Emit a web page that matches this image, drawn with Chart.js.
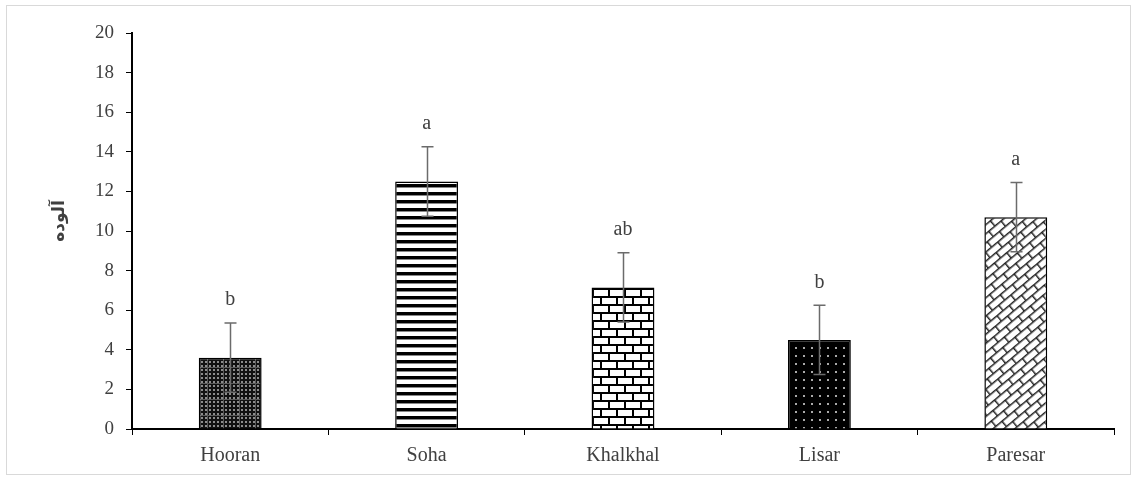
<!DOCTYPE html>
<html>
<head>
<meta charset="utf-8">
<script src="https://cdn.jsdelivr.net/npm/chart.js@4.4.1/dist/chart.umd.min.js"></script>
<style>
  html, body { margin: 0; padding: 0; background: #fff; }
  canvas { display: block; }
</style>
</head>
<body>
<canvas id="c" width="1138" height="480"></canvas>
<script>
// ---- Data ----
const categories = ["Hooran", "Soha", "Khalkhal", "Lisar", "Paresar"];
const values = [3.6, 12.5, 7.15, 4.5, 10.7];
const errors = [1.75, 1.75, 1.75, 1.75, 1.75];
const letters = ["b", "a", "ab", "b", "a"];
const yTicks = [0, 2, 4, 6, 8, 10, 12, 14, 16, 18, 20];
const yTitle = "آلوده";

// ---- Patterns ----
function mk(w, h, draw, rot) {
  const c = document.createElement('canvas');
  c.width = w; c.height = h;
  const g = c.getContext('2d');
  draw(g, w, h);
  const p = document.getElementById('c').getContext('2d').createPattern(c, 'repeat');
  if (rot && p.setTransform) p.setTransform(new DOMMatrix().rotate(rot));
  return p;
}
const patHooran = mk(16, 16, (g, w, h) => {
  g.fillStyle = '#111'; g.fillRect(0, 0, w, h);
  g.fillStyle = '#8c8c8c';
  for (let x = 1; x < w; x += 4) for (let y = 1; y < h; y += 4) g.fillRect(x, y, 2, 2);
  g.fillStyle = '#5a5a5a';
  g.fillRect(0, 15, w, 1); g.fillRect(15, 0, 1, h);
});
const patSoha = mk(8, 8, (g, w, h) => {
  g.fillStyle = '#fff'; g.fillRect(0, 0, w, h);
  g.fillStyle = '#000'; g.fillRect(0, 0, w, 3);
  g.fillStyle = '#888'; g.fillRect(0, 3, w, 1);
});
const patBrick = mk(16, 16, (g, w, h) => {
  g.fillStyle = '#fff'; g.fillRect(0, 0, w, h);
  g.fillStyle = '#000';
  g.fillRect(0, 0, w, 2); g.fillRect(0, 8, w, 2);
  g.fillRect(0, 0, 2, 8); g.fillRect(8, 8, 2, 8);
});
const patDots = mk(8, 8, (g, w, h) => {
  g.fillStyle = '#000'; g.fillRect(0, 0, w, h);
  g.fillStyle = '#aaa'; g.fillRect(3, 3, 2, 2);
});
const patLattice = mk(16, 14, (g, w, h) => {
  g.fillStyle = '#fff'; g.fillRect(0, 0, w, h);
  g.fillStyle = '#222';
  g.fillRect(0, 0, w, 1.5); g.fillRect(0, 7, w, 1.5);
  g.fillRect(0, 0, 1.5, 7); g.fillRect(8, 7, 1.5, 7);
}, -40);
const patterns = [patHooran, patSoha, patBrick, patDots, patLattice];

// ---- Plugins ----
const frame = {
  id: 'frame',
  beforeDraw(chart) {
    const ctx = chart.ctx;
    ctx.save();
    ctx.fillStyle = '#fff';
    ctx.fillRect(0, 0, chart.width, chart.height);
    ctx.strokeStyle = '#d9d9d9';
    ctx.lineWidth = 1;
    ctx.strokeRect(6.5, 5.5, 1124, 469);
    ctx.restore();
  }
};
const yTitlePlugin = {
  id: 'yTitlePlugin',
  afterDraw(chart) {
    const ctx = chart.ctx;
    ctx.save();
    ctx.translate(60, 221);
    ctx.rotate(-Math.PI / 2);
    ctx.fillStyle = '#404040';
    ctx.font = 'bold 17px "Liberation Serif", "DejaVu Sans", serif';
    ctx.textAlign = 'center';
    ctx.textBaseline = 'middle';
    ctx.fillText(yTitle, 0, 0);
    ctx.restore();
  }
};
const errAndLetters = {
  id: 'errAndLetters',
  afterDatasetsDraw(chart) {
    const ctx = chart.ctx;
    const ys = chart.scales.y;
    const meta = chart.getDatasetMeta(0);
    ctx.save();
    meta.data.forEach((bar, i) => {
      const x = Math.round(bar.x) + 0.5;
      const yTop = ys.getPixelForValue(values[i] + errors[i]);
      const yBot = ys.getPixelForValue(values[i] - errors[i]);
      ctx.strokeStyle = '#6b6b6b';
      ctx.lineWidth = 1.5;
      ctx.beginPath();
      ctx.moveTo(x, yTop); ctx.lineTo(x, yBot);
      ctx.moveTo(x - 6, yTop); ctx.lineTo(x + 6, yTop);
      ctx.moveTo(x - 6, yBot); ctx.lineTo(x + 6, yBot);
      ctx.stroke();
      ctx.fillStyle = '#404040';
      ctx.font = '20px "Liberation Serif", serif';
      ctx.textAlign = 'center';
      ctx.textBaseline = 'middle';
      ctx.fillText(letters[i], bar.x, yTop - 23);
    });
    ctx.restore();
  }
};

new Chart(document.getElementById('c'), {
  type: 'bar',
  data: {
    labels: categories,
    datasets: [{
      data: values,
      backgroundColor: patterns,
      borderColor: '#000',
      borderWidth: 1.5,
      barPercentage: 0.32,
      categoryPercentage: 1.0
    }]
  },
  options: {
    responsive: false,
    animation: false,
    devicePixelRatio: 1,
    layout: { padding: { top: 33, right: 24, left: 0, bottom: 0 } },
    plugins: { legend: { display: false }, tooltip: { enabled: false } },
    scales: {
      x: {
        grid: { display: true, drawOnChartArea: false, drawTicks: true, tickLength: 6, color: '#000', offset: true },
        border: { display: true, color: '#000', width: 2 },
        ticks: { color: '#404040', font: { family: '"Liberation Serif", serif', size: 20 }, padding: 9 },
        afterFit(s) { s.height = 51; }
      },
      y: {
        min: 0, max: 20,
        afterBuildTicks(s) { s.ticks = yTicks.map(v => ({ value: v })); },
        grid: { display: true, drawOnChartArea: false, drawTicks: true, tickLength: 6, color: '#000' },
        border: { display: true, color: '#000', width: 2 },
        ticks: { color: '#404040', font: { family: '"Liberation Serif", serif', size: 19 }, padding: 12 },
        afterFit(s) { s.width = 132; }
      }
    }
  },
  plugins: [frame, errAndLetters, yTitlePlugin]
});
</script>
</body>
</html>
